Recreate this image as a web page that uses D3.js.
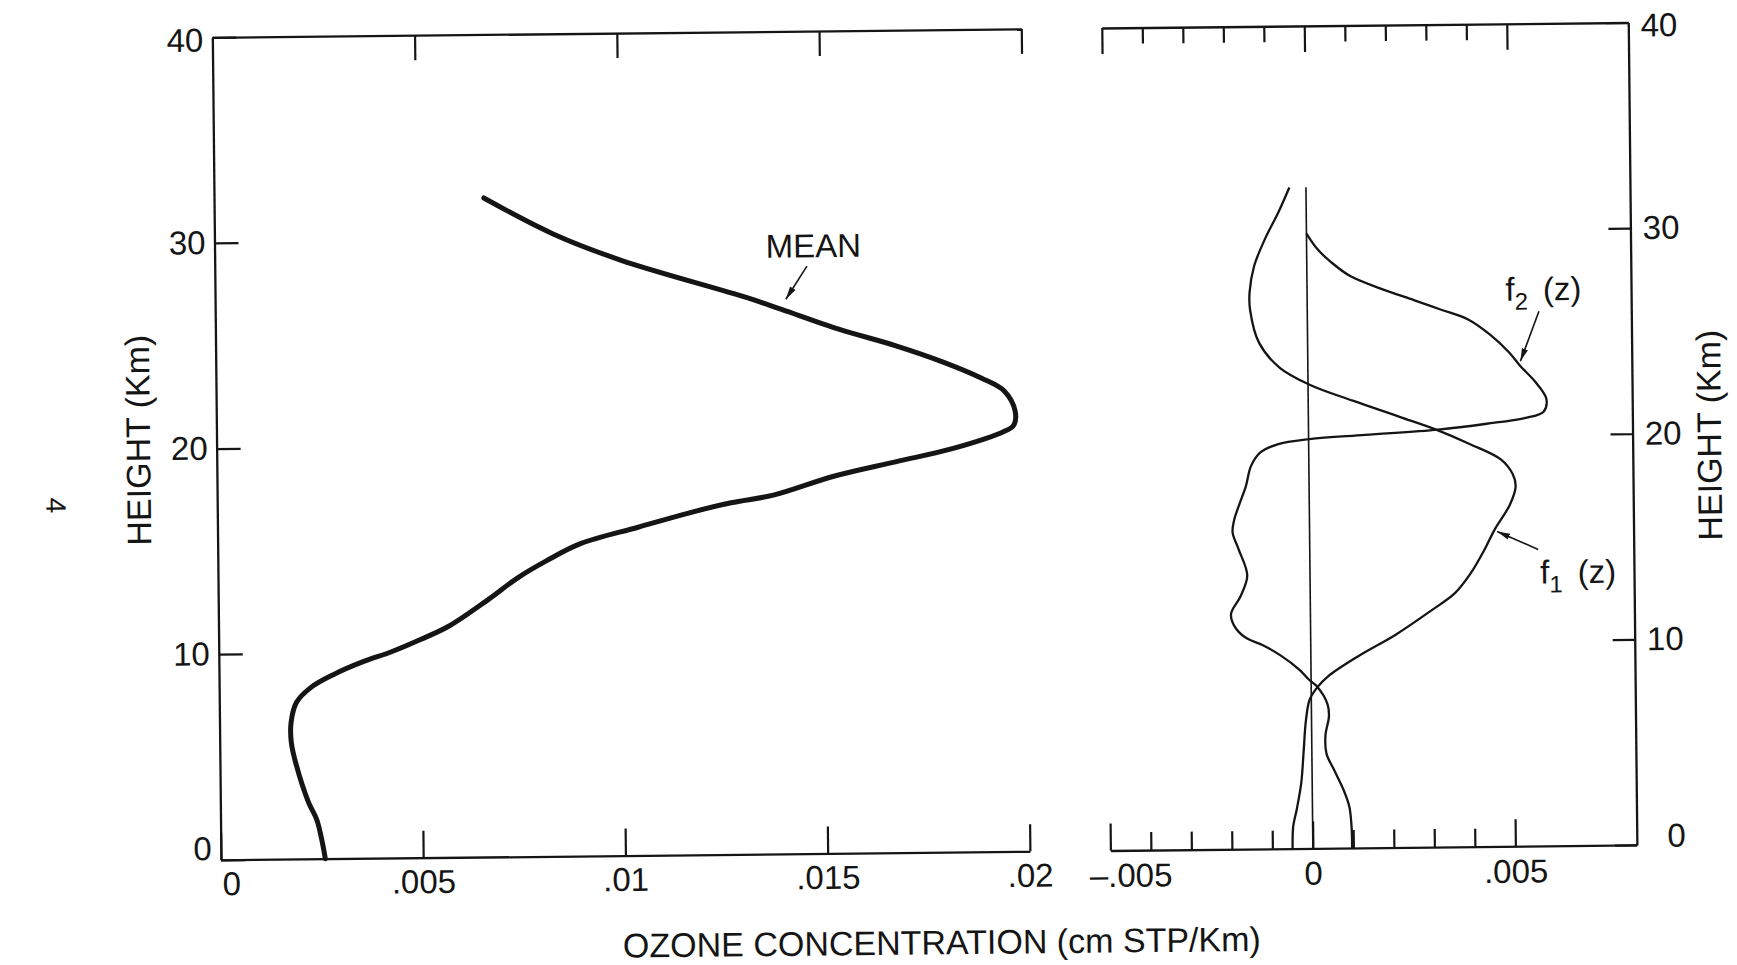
<!DOCTYPE html>
<html>
<head>
<meta charset="utf-8">
<script src="https://cdn.jsdelivr.net/npm/d3@7"></script>
<style>
  body { margin: 0; background: #fff; }
  svg { display: block; background: #fff; }
</style>
</head>
<body>
<div id="chart"></div>
<script>

// ---- data ----

// mean ozone profile, left panel
var meanHeight = [0, 0.8, 1.9, 2.75, 4.55, 5.67, 6.65, 7.62, 8.35, 8.97, 9.55, 10.03, 10.61, 11.24, 12.54,
    13.55, 14.37, 15.19, 15.96, 16.62, 17.1, 17.45, 18.34, 19.01, 19.63, 20.44, 20.73, 21.41, 22.39, 23.03,
    23.86, 24.65, 25.49, 26.48, 27.07, 28.95, 30.28, 32.05];
var meanValue = [0.00258, 0.00251, 0.00238, 0.00218, 0.00189, 0.00177, 0.00177, 0.00191, 0.00228, 0.00285,
    0.00355, 0.00427, 0.00499, 0.00569, 0.00669, 0.0074, 0.00812, 0.00897, 0.0104, 0.01165, 0.0127, 0.01375,
    0.01525, 0.01678, 0.01821, 0.01948, 0.01971, 0.01975, 0.01949, 0.01893, 0.01795, 0.01682, 0.01541, 0.0140,
    0.01315, 0.01005, 0.00836, 0.00667];

// first eigenvector f1(z), right panel
var f1Height = [32.15, 30.94, 29.64, 28.35, 27.06, 26.2, 24.62, 23.4, 22.55, 21.75, 20.93, 20.3, 19.6, 18.82,
    18.1, 17.5, 16.6, 15.41, 14.35, 13.3, 12.35, 11.5, 10.35, 9.31, 8.36, 7.85, 7.24, 6.2, 4.8, 3.19, 1.89, 1.08, 0];
var f1Value = [-0.00041, -0.00069, -0.00103, -0.0013, -0.00142, -0.00141, -0.0012, -0.0007, 0.00004, 0.0011,
    0.00227, 0.00315, 0.00396, 0.00474, 0.00503, 0.0051, 0.00495, 0.00457, 0.00429, 0.00397, 0.00358, 0.00298,
    0.0021, 0.00116, 0.00042, 0.00016, -0.00004, -0.00014, -0.0002, -0.00027, -0.00039, -0.00048, -0.0005];

// second eigenvector f2(z), right panel
var f2Height = [29.9, 29.13, 28.5, 27.81, 27.2, 26.6, 26.14, 25.64, 24.9, 24.0, 23.34, 22.6, 21.75, 21.12, 20.82,
    20.56, 20.3, 20.08, 19.9, 19.66, 19.27, 18.62, 17.65, 16.8, 16.0, 15.4, 14.6, 13.3, 12.3, 11.45, 10.85, 10.3,
    9.9, 9.4, 8.7, 8.2, 7.88, 7.0, 6.4, 5.5, 4.6, 3.82, 2.84, 2.02, 1.05, 0];
var f2Value = [0, 0.00027, 0.0006, 0.00107, 0.0018, 0.00265, 0.00329, 0.00397, 0.0045, 0.00498, 0.00525, 0.0056,
    0.00588, 0.00581, 0.00534, 0.0044, 0.0032, 0.0014, 0.00002, -0.00077, -0.0012, -0.00143, -0.00156, -0.00172,
    -0.00186, -0.0019, -0.00176, -0.00155, -0.00172, -0.00196, -0.00188, -0.00162, -0.00118, -0.00075, -0.00029,
    -0.00005, 0.00014, 0.0004, 0.00043, 0.00034, 0.00036, 0.00054, 0.00077, 0.00091, 0.00096, 0.00097];

// zero reference line in right panel runs up to the top of the curves
var zeroLineTop = 32.15;

// ticks and tick labels
var heightTicks = [0, 10, 20, 30, 40];
var heightLabels = ["0", "10", "20", "30", "40"];
var leftXTicks = [0, 0.005, 0.01, 0.015, 0.02];
var leftXLabels = ["0", ".005", ".01", ".015", ".02"];
var rightXTicks = [-0.005, -0.004, -0.003, -0.002, -0.001, 0, 0.001, 0.002, 0.003, 0.004, 0.005];
var rightXMajor = [-0.005, 0, 0.005];
var rightXMajorLabels = ["\u2013.005", "0", ".005"];

// annotations (data coordinates)
var meanLabel = {text: "MEAN", at: [0.0148, 29.0]};
var meanArrow = [[0.01464, 28.57], [0.01411, 26.97]];
var f2Label = {sub: "2", at: [0.0049, 26.53]};
var f2Arrow = [[0.00572, 26.0], [0.00525, 23.58]];
var f1Label = {sub: "1", at: [0.00568, 12.76]};
var f1Arrow = [[0.00564, 14.42], [0.00463, 15.32]];

// ---- layout ----
var width = 1737, height = 965;
var ink = "#151515";
var font = "'Liberation Sans', Arial, sans-serif";

var xL = d3.scaleLinear().domain([0, 0.02]).range([217, 1026]);
var xR = d3.scaleLinear().domain([-0.005, 0.008]).range([1106.5, 1633]);
var y = d3.scaleLinear().domain([0, 40]).range([853, 30.5]);

var svg = d3.select("#chart").append("svg")
    .attr("width", width)
    .attr("height", height);

svg.append("rect").attr("width", width).attr("height", height).attr("fill", "#fff");

var defs = svg.append("defs");
defs.append("marker")
    .attr("id", "arrow")
    .attr("viewBox", "0 0 13 8")
    .attr("refX", 13).attr("refY", 4)
    .attr("markerWidth", 13).attr("markerHeight", 8)
    .attr("markerUnits", "userSpaceOnUse")
    .attr("orient", "auto")
    .append("path")
    .attr("d", "M0,0.8 L13,4 L0,7.2 Z")
    .attr("fill", ink);

// the scan is slightly rotated
var g = svg.append("g").attr("transform", "rotate(-0.6, 868, 480)");

function styleAxis(sel) {
    sel.select(".domain").attr("stroke", ink).attr("stroke-width", 2.3);
    sel.selectAll(".tick line").attr("stroke", ink).attr("stroke-width", 2.2);
    sel.selectAll(".tick text")
        .attr("fill", ink)
        .style("font-family", font)
        .style("font-size", "33px");
}

function isMajor(d) {
    return rightXMajor.some(function(m) { return Math.abs(m - d) < 1e-9; });
}
function majorLabel(d) {
    for (var i = 0; i < rightXMajor.length; i++) {
        if (Math.abs(rightXMajor[i] - d) < 1e-9) return rightXMajorLabels[i];
    }
    return "";
}

// ---- left panel axes ----
g.append("g")
    .attr("transform", "translate(0," + y(0) + ")")
    .call(d3.axisBottom(xL).tickValues(leftXTicks)
        .tickFormat(function(d, i) { return leftXLabels[i]; })
        .tickSizeInner(-27).tickSizeOuter(0).tickPadding(12))
    .call(styleAxis)
    .selectAll(".tick text")
    .attr("dx", function(d) { return d === 0 ? 10 : 0; });

g.append("g")
    .attr("transform", "translate(0," + y(40) + ")")
    .call(d3.axisTop(xL).tickValues(leftXTicks.slice(1)).tickFormat("")
        .tickSizeInner(-25).tickSizeOuter(0))
    .call(styleAxis);

g.append("g")
    .attr("transform", "translate(" + xL(0) + ",0)")
    .call(d3.axisLeft(y).tickValues(heightTicks)
        .tickFormat(function(d, i) { return heightLabels[i]; })
        .tickSizeInner(-24).tickSizeOuter(0).tickPadding(9))
    .call(styleAxis)
    .selectAll(".tick text")
    .attr("y", function(d) { return d === 0 ? -11 : (d === 40 ? 3 : 0); });

// ---- right panel axes ----
g.append("g")
    .attr("transform", "translate(0," + y(0) + ")")
    .call(d3.axisBottom(xR).tickValues(rightXTicks).tickFormat(majorLabel)
        .tickSizeInner(-18).tickSizeOuter(0).tickPadding(13))
    .call(styleAxis)
    .call(function(a) {
        a.selectAll(".tick line").attr("y2", function(d) { return isMajor(d) ? -27 : -18; });
        a.selectAll(".tick text").attr("dx", function(d) { return d < 0 ? 20 : 0; });
    });

g.append("g")
    .attr("transform", "translate(0," + y(40) + ")")
    .call(d3.axisTop(xR).tickValues(rightXTicks).tickFormat("")
        .tickSizeInner(-16).tickSizeOuter(0))
    .call(styleAxis)
    .selectAll(".tick line").attr("y2", function(d) { return isMajor(d) ? 26 : 16; });

g.append("g")
    .attr("transform", "translate(" + xR(0.008) + ",0)")
    .call(d3.axisRight(y).tickValues(heightTicks)
        .tickFormat(function(d, i) { return heightLabels[i]; })
        .tickSizeInner(-22).tickSizeOuter(0))
    .call(styleAxis)
    .selectAll(".tick text")
    .attr("x", 49)
    .attr("text-anchor", "end")
    .attr("y", function(d) { return d === 0 ? -9 : (d === 40 ? 3 : 0); });

// ---- lines ----
var lineL = d3.line()
    .x(function(d) { return xL(d[0]); })
    .y(function(d) { return y(d[1]); })
    .curve(d3.curveCatmullRom.alpha(0.5));

var lineR = d3.line()
    .x(function(d) { return xR(d[0]); })
    .y(function(d) { return y(d[1]); })
    .curve(d3.curveCatmullRom.alpha(0.5));

g.append("path")
    .datum(d3.zip(meanValue, meanHeight))
    .attr("d", lineL)
    .attr("fill", "none")
    .attr("stroke", ink)
    .attr("stroke-width", 5)
    .attr("stroke-linecap", "round")
    .attr("stroke-linejoin", "round");

// zero reference line
g.append("path")
    .datum([[0, 0], [0, zeroLineTop]])
    .attr("d", d3.line().x(function(d) { return xR(d[0]); }).y(function(d) { return y(d[1]); }))
    .attr("fill", "none")
    .attr("stroke", ink)
    .attr("stroke-width", 1.6);

[[f1Value, f1Height], [f2Value, f2Height]].forEach(function(s) {
    g.append("path")
        .datum(d3.zip(s[0], s[1]))
        .attr("d", lineR)
        .attr("fill", "none")
        .attr("stroke", ink)
        .attr("stroke-width", 2.3)
        .attr("stroke-linejoin", "round");
});

// ---- annotations ----
function arrow(pts, xs) {
    g.append("line")
        .attr("x1", xs(pts[0][0])).attr("y1", y(pts[0][1]))
        .attr("x2", xs(pts[1][0])).attr("y2", y(pts[1][1]))
        .attr("stroke", ink)
        .attr("stroke-width", 1.6)
        .attr("marker-end", "url(#arrow)");
}
arrow(meanArrow, xL);
arrow(f2Arrow, xR);
arrow(f1Arrow, xR);

g.append("text")
    .attr("x", xL(meanLabel.at[0]))
    .attr("y", y(meanLabel.at[1]))
    .attr("text-anchor", "middle")
    .style("font-family", font)
    .style("font-size", "33px")
    .attr("fill", ink)
    .text(meanLabel.text);

[f2Label, f1Label].forEach(function(l) {
    var t = g.append("text")
        .attr("x", xR(l.at[0]))
        .attr("y", y(l.at[1]))
        .style("font-family", font)
        .style("font-size", "33px")
        .attr("fill", ink);
    t.append("tspan").text("f");
    t.append("tspan").attr("dy", 9).style("font-size", "24px").text(l.sub);
    t.append("tspan").attr("dy", -9).attr("dx", 15).text("(z)");
});

// axis titles
g.append("text")
    .attr("x", 937)
    .attr("y", 955)
    .attr("text-anchor", "middle")
    .style("font-family", font)
    .style("font-size", "34px")
    .attr("fill", ink)
    .text("OZONE CONCENTRATION (cm STP/Km)");

g.append("text")
    .attr("transform", "translate(150.5,432.5) rotate(-90)")
    .attr("text-anchor", "middle")
    .style("font-family", font)
    .style("font-size", "34px")
    .attr("fill", ink)
    .text("HEIGHT (Km)");

g.append("text")
    .attr("transform", "translate(1721.5,444) rotate(-90)")
    .attr("text-anchor", "middle")
    .style("font-family", font)
    .style("font-size", "34px")
    .attr("fill", ink)
    .text("HEIGHT (Km)");

// page number of the scanned page
g.append("text")
    .attr("transform", "translate(46,497) rotate(90)")
    .attr("text-anchor", "middle")
    .style("font-family", font)
    .style("font-size", "28px")
    .attr("fill", ink)
    .text("4");

</script>
</body>
</html>
